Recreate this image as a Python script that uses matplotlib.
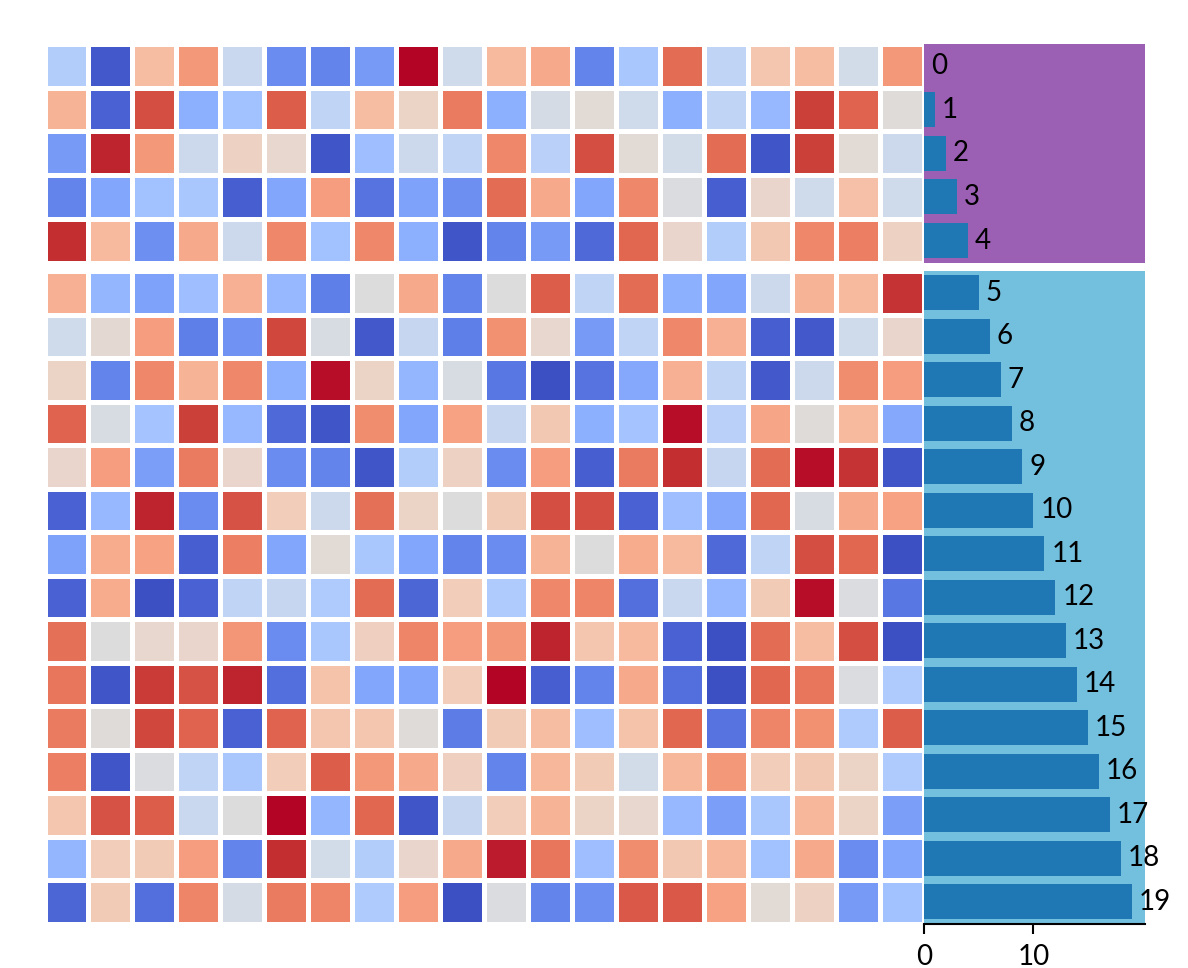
import numpy as np
import matplotlib
matplotlib.use("Agg")
import matplotlib.pyplot as plt

# heatmap values, normalised 0..1 (coolwarm), rows 0-19 x cols 0-19
values = [
    [0.36, 0.03, 0.65, 0.75, 0.43, 0.15, 0.13, 0.19, 1.00, 0.45, 0.66, 0.71, 0.13, 0.33, 0.85, 0.40, 0.62, 0.65, 0.46, 0.75],
    [0.68, 0.05, 0.91, 0.25, 0.31, 0.88, 0.40, 0.65, 0.56, 0.82, 0.25, 0.47, 0.52, 0.45, 0.25, 0.40, 0.28, 0.93, 0.87, 0.51],
    [0.19, 0.97, 0.75, 0.44, 0.57, 0.54, 0.02, 0.30, 0.44, 0.40, 0.79, 0.38, 0.91, 0.52, 0.46, 0.85, 0.02, 0.93, 0.52, 0.44],
    [0.13, 0.22, 0.31, 0.33, 0.04, 0.22, 0.74, 0.09, 0.21, 0.16, 0.85, 0.71, 0.22, 0.79, 0.49, 0.04, 0.55, 0.45, 0.64, 0.45],
    [0.96, 0.66, 0.16, 0.71, 0.44, 0.79, 0.31, 0.79, 0.25, 0.02, 0.13, 0.19, 0.07, 0.86, 0.55, 0.36, 0.61, 0.79, 0.81, 0.57],
    [0.69, 0.27, 0.21, 0.30, 0.69, 0.28, 0.12, 0.50, 0.71, 0.13, 0.50, 0.88, 0.40, 0.85, 0.25, 0.22, 0.44, 0.68, 0.66, 0.95],
    [0.45, 0.53, 0.74, 0.12, 0.17, 0.92, 0.48, 0.03, 0.42, 0.12, 0.77, 0.54, 0.19, 0.40, 0.79, 0.69, 0.04, 0.03, 0.45, 0.55],
    [0.56, 0.13, 0.79, 0.68, 0.79, 0.25, 0.99, 0.56, 0.27, 0.48, 0.10, 0.01, 0.09, 0.23, 0.69, 0.40, 0.03, 0.44, 0.78, 0.74],
    [0.87, 0.48, 0.32, 0.93, 0.28, 0.07, 0.02, 0.78, 0.22, 0.73, 0.42, 0.61, 0.25, 0.32, 0.99, 0.38, 0.72, 0.51, 0.66, 0.23],
    [0.55, 0.74, 0.20, 0.82, 0.55, 0.15, 0.13, 0.02, 0.36, 0.57, 0.15, 0.74, 0.04, 0.82, 0.96, 0.42, 0.85, 0.99, 0.95, 0.02],
    [0.05, 0.28, 0.97, 0.15, 0.90, 0.59, 0.44, 0.84, 0.56, 0.50, 0.60, 0.91, 0.91, 0.05, 0.30, 0.23, 0.86, 0.48, 0.71, 0.73],
    [0.21, 0.70, 0.73, 0.04, 0.81, 0.22, 0.52, 0.33, 0.22, 0.13, 0.15, 0.68, 0.50, 0.70, 0.66, 0.07, 0.40, 0.91, 0.86, 0.01],
    [0.05, 0.70, 0.01, 0.05, 0.40, 0.42, 0.35, 0.85, 0.06, 0.59, 0.35, 0.79, 0.80, 0.08, 0.43, 0.28, 0.60, 0.99, 0.49, 0.10],
    [0.84, 0.50, 0.54, 0.55, 0.76, 0.15, 0.33, 0.58, 0.80, 0.74, 0.75, 0.97, 0.62, 0.66, 0.05, 0.01, 0.85, 0.65, 0.91, 0.01],
    [0.83, 0.02, 0.94, 0.90, 0.97, 0.08, 0.63, 0.22, 0.22, 0.59, 1.00, 0.04, 0.13, 0.71, 0.08, 0.01, 0.86, 0.83, 0.49, 0.35],
    [0.82, 0.51, 0.92, 0.87, 0.05, 0.87, 0.62, 0.62, 0.51, 0.11, 0.60, 0.65, 0.30, 0.63, 0.86, 0.09, 0.80, 0.77, 0.35, 0.88],
    [0.81, 0.02, 0.49, 0.40, 0.33, 0.59, 0.88, 0.75, 0.71, 0.58, 0.13, 0.67, 0.60, 0.46, 0.67, 0.75, 0.59, 0.61, 0.56, 0.35],
    [0.62, 0.90, 0.88, 0.43, 0.50, 1.00, 0.27, 0.86, 0.02, 0.42, 0.59, 0.68, 0.56, 0.54, 0.28, 0.20, 0.33, 0.67, 0.56, 0.20],
    [0.27, 0.59, 0.60, 0.74, 0.13, 0.96, 0.46, 0.36, 0.55, 0.71, 0.98, 0.83, 0.30, 0.78, 0.61, 0.67, 0.31, 0.71, 0.15, 0.22],
    [0.06, 0.60, 0.08, 0.80, 0.47, 0.82, 0.80, 0.35, 0.74, 0.01, 0.49, 0.13, 0.16, 0.89, 0.89, 0.73, 0.52, 0.57, 0.19, 0.31],
]

# bar values for each row
counts = [0, 1, 2, 3, 4, 5, 6, 7, 8, 9, 10, 11, 12, 13, 14, 15, 16, 17, 18, 19]

# row groups: (first row, last row + 1, background colour)
groups = [(0, 5, "#9b5fb4"), (5, 20, "#73bfde")]

BAR_COLOR = "#1f77b4"

plt.rcParams["font.family"] = ["Lato", "DejaVu Sans"]

W, H = 1188, 968
fig = plt.figure(figsize=(W / 100, H / 100), dpi=100)
data = np.array(values)

# pixel boxes (top, bottom) for each group
boxes = [(44, 262.5), (271, 923.5)]
hm_left, hm_right = 44.5, 924
bar_left, bar_right = 924, 1145

for (start, stop, bg), (top, bottom) in zip(groups, boxes):
    rect_h = (bottom - top) / H
    y0 = (H - bottom) / H

    # heatmap part
    ax = fig.add_axes([hm_left / W, y0, (hm_right - hm_left) / W, rect_h])
    ax.pcolormesh(data[start:stop], cmap="coolwarm", vmin=0, vmax=1,
                  edgecolors="white", linewidth=3.6)
    ax.set_xlim(0, data.shape[1])
    ax.set_ylim(stop - start, 0)
    ax.axis("off")

    # bar part
    bx = fig.add_axes([bar_left / W, y0, (bar_right - bar_left) / W, rect_h])
    bx.set_facecolor(bg)
    n = stop - start
    bars = bx.barh(np.arange(n), counts[start:stop], height=0.8, color=BAR_COLOR)
    bx.bar_label(bars, labels=[str(c) for c in counts[start:stop]],
                 padding=5, fontsize=20)
    bx.set_ylim(n - 0.5, -0.5)
    bx.set_xlim(0, 20.2)
    bx.set_yticks([])
    for side in ["top", "right", "left"]:
        bx.spines[side].set_visible(False)
    if stop == len(counts):
        bx.spines["bottom"].set_linewidth(1.5)
        bx.set_xticks([0, 10])
        bx.tick_params(axis="x", labelsize=20, length=7, width=1.5, pad=8)
    else:
        bx.spines["bottom"].set_visible(False)
        bx.set_xticks([])

fig.savefig("out.png", dpi=100)
